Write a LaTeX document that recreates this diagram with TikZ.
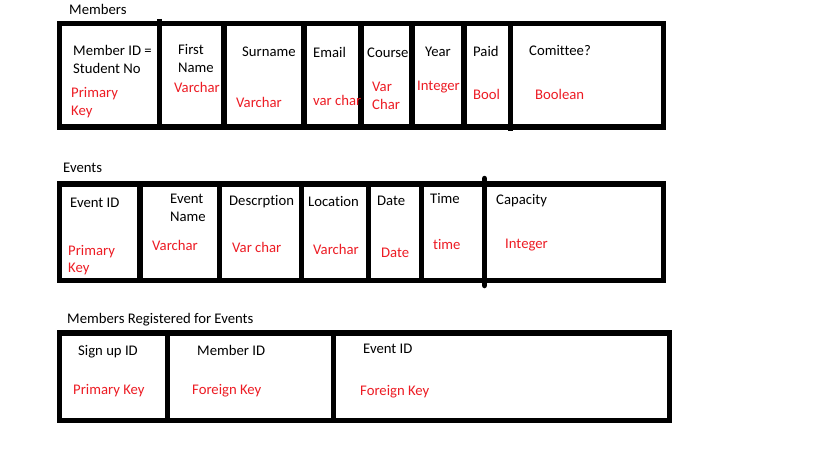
\documentclass[tikz,border=0pt]{standalone}
\usepackage{fontspec}
\setmainfont{Carlito}[Ligatures={NoCommon}]
\definecolor{fieldred}{RGB}{237,28,36}
\begin{document}
\begin{tikzpicture}[x=1pt,y=-1pt,
  tbl/.style={line width=5.5pt, line join=miter},
  lbl/.style={anchor=base west, inner sep=0pt, font=\fontsize{14.7}{17}\selectfont},
  typ/.style={lbl, text=fieldred}]
\useasboundingbox (0,0) rectangle (819,460);
\fill[white] (0,0) rectangle (819,460);

% ---------- Members ----------
\node[lbl] (tM) at (69,14.5) {Members};
\draw[tbl] (59.5,23.5) rectangle (663.5,127);
\draw[tbl] (159.5,19) -- (159.5,127);
\foreach \x in {224,304,361,412,464} \draw[tbl] (\x,23.5) -- (\x,127);
\draw[tbl] (510.5,23.5) -- (510.5,131);

\node[lbl] (m1a) at (73,55.5) {Member ID =};
\node[lbl] (m1b) at (73,73.5) {Student No};
\node[typ] (m1c) at (71,97.5) {Primary};
\node[typ] (m1d) at (71,115.5) {Key};
\node[lbl] (m2a) at (178,54.5) {First};
\node[lbl] (m2b) at (178,72.5) {Name};
\node[typ] (m2c) at (174,92.5) {Varchar};
\node[lbl] (m3a) at (242,56.5) {Surname};
\node[typ] (m3b) at (236,107.5) {Varchar};
\node[lbl] (m4a) at (313,57.5) {Email};
\node[typ] (m4b) at (313,105.5) {var char};
\node[lbl] (m5a) at (367,57.5) {Course};
\node[typ] (m5b) at (372,91.5) {Var};
\node[typ] (m5c) at (372,109.5) {Char};
\node[lbl] (m6a) at (425,56.5) {Year};
\node[typ] (m6b) at (417,90.5) {Integer};
\node[lbl] (m7a) at (473,56.5) {Paid};
\node[typ] (m7b) at (473,99.5) {Bool};
\node[lbl] (m8a) at (529,55.5) {Comittee?};
\node[typ] (m8b) at (535,99.5) {Boolean};

% ---------- Events ----------
\node[lbl] (tE) at (63,172.5) {Events};
\draw[tbl] (59.5,184) rectangle (663.5,280.5);
\foreach \x in {140,219.5,301.5,368.5,421.5} \draw[tbl] (\x,184) -- (\x,280.5);
\draw[tbl, line cap=round] (484.5,178.5) -- (484.5,285.5);

\node[lbl] (e1a) at (70,207.5) {Event ID};
\node[typ] (e1b) at (68,255.5) {Primary};
\node[typ] (e1c) at (68,272.5) {Key};
\node[lbl] (e2a) at (170,203.5) {Event};
\node[lbl] (e2b) at (170,221.5) {Name};
\node[typ] (e2c) at (152,250.5) {Varchar};
\node[lbl] (e3a) at (229,205.5) {Descrption};
\node[typ] (e3b) at (232,252.5) {Var char};
\node[lbl] (e4a) at (308,206.5) {Location};
\node[typ] (e4b) at (313,254.5) {Varchar};
\node[lbl] (e5a) at (377,205.5) {Date};
\node[typ] (e5b) at (381,257.5) {Date};
\node[lbl] (e6a) at (430,203.5) {Time};
\node[typ] (e6b) at (433,249.5) {time};
\node[lbl] (e7a) at (496,204.5) {Capacity};
\node[typ] (e7b) at (505,248.5) {Integer};

% ---------- Members Registered for Events ----------
\node[lbl] (tR) at (67,323.5) {Members Registered for Events};
\draw[tbl] (59.5,333) rectangle (669.5,420.5);
\foreach \x in {167.5,333.5} \draw[tbl] (\x,333) -- (\x,420.5);

\node[lbl] (r1a) at (78,355.5) {Sign up ID};
\node[typ] (r1b) at (73,394.5) {Primary Key};
\node[lbl] (r2a) at (197,355.5) {Member ID};
\node[typ] (r2b) at (192,394.5) {Foreign Key};
\node[lbl] (r3a) at (363,353.5) {Event ID};
\node[typ] (r3b) at (360,395.5) {Foreign Key};
\end{tikzpicture}
\end{document}
